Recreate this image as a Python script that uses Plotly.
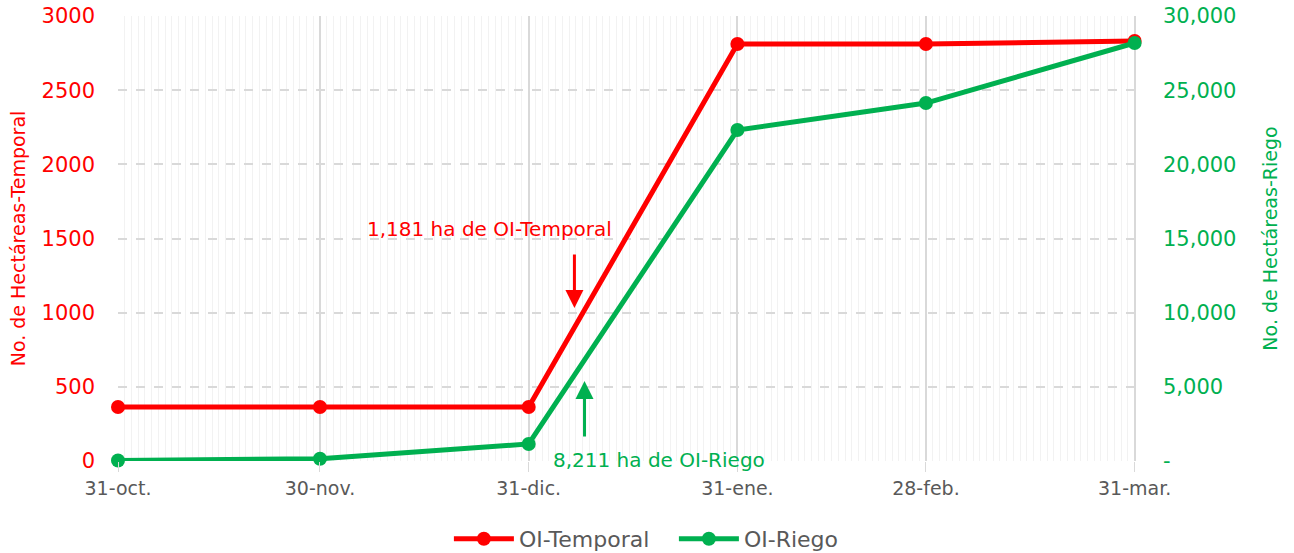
import plotly.graph_objects as go

dates = ["2020-10-31", "2020-11-30", "2020-12-31", "2021-01-31", "2021-02-28", "2021-03-31"]
tick_labels = ["31-oct.", "30-nov.", "31-dic.", "31-ene.", "28-feb.", "31-mar."]
temporal = [364, 364, 364, 2811, 2811, 2831]
riego = [30, 150, 1150, 22310, 24130, 28180]
left_ticks = [0, 500, 1000, 1500, 2000, 2500, 3000]
right_ticks = [0, 5000, 10000, 15000, 20000, 25000, 30000]
right_labels = ["-", "5,000", "10,000", "15,000", "20,000", "25,000", "30,000"]

RED = "#FF0000"
GREEN = "#00B050"
GRAY = "#595959"
FONT = "DejaVu Sans"

fig = go.Figure()
fig.add_trace(go.Scatter(x=dates, y=temporal, name="OI-Temporal", mode="lines+markers", cliponaxis=False,
                         line=dict(color=RED, width=5), marker=dict(size=14, color=RED), yaxis="y"))
fig.add_trace(go.Scatter(x=dates, y=riego, name="OI-Riego", mode="lines+markers", cliponaxis=False,
                         line=dict(color=GREEN, width=5), marker=dict(size=14, color=GREEN), yaxis="y2"))

fig.update_layout(
    width=1294, height=553,
    margin=dict(l=118, r=156, t=16, b=92, autoexpand=False),
    plot_bgcolor="white", paper_bgcolor="white",
    font=dict(family=FONT, size=19, color=GRAY),
    showlegend=True,
    legend=dict(orientation="h", x=0.545, xanchor="center", y=-0.128, yanchor="top",
                font=dict(size=22, color=GRAY), itemwidth=60,
                entrywidth=150, entrywidthmode="pixels"),
    xaxis=dict(
        type="date", automargin=False,
        range=["2020-10-31", "2021-03-31 12:00"],
        tickvals=dates, ticktext=tick_labels,
        tickfont=dict(size=19, color=GRAY), ticklabeloverflow="allow",
        showgrid=True, gridcolor="#D9D9D9", gridwidth=1.5,
        showline=False, zeroline=False,
        ticks="outside", ticklen=10, tickcolor="#D9D9D9",
        minor=dict(dtick=86400000, tick0="2020-10-31", showgrid=True, gridcolor="#F2F2F2", gridwidth=1, ticks=""),
    ),
    yaxis=dict(
        range=[0, 3000], tickvals=left_ticks, automargin=False,
        tickfont=dict(size=21, color=RED), ticklabeloverflow="allow",
        title=dict(text="No. de Hectáreas-Temporal", font=dict(size=19, color=RED), standoff=10),
        showgrid=True, gridcolor="#D9D9D9", gridwidth=1.5, griddash="dash",
        zeroline=False, showline=False, ticklabelstandoff=22,
    ),
    yaxis2=dict(
        range=[0, 30000], overlaying="y", side="right", automargin=False,
        tickvals=right_ticks, ticktext=right_labels,
        tickfont=dict(size=21, color=GREEN), ticklabeloverflow="allow",
        title=dict(text="No. de Hectáreas-Riego", font=dict(size=19, color=GREEN), standoff=28),
        showgrid=False, zeroline=False, showline=False, ticklabelstandoff=24,
    ),
)

fig.add_annotation(x="2020-12-25 06:00", y=1564, xref="x", yref="y", text="1,181 ha de OI-Temporal",
                   showarrow=False, font=dict(size=20, color=RED))
fig.add_annotation(x="2021-01-19 10:00", y=8, xref="x", yref="y", text="8,211 ha de OI-Riego",
                   showarrow=False, font=dict(size=20, color=GREEN))
fig.add_annotation(x="2021-01-06 19:00", y=1031, xref="x", yref="y", text="", showarrow=True,
                   ax=0, ay=-55, arrowcolor=RED, arrowwidth=3, arrowhead=2, arrowsize=1.2)
fig.add_annotation(x="2021-01-08 07:00", y=5393, xref="x", yref="y2", text="", showarrow=True,
                   ax=0, ay=57, arrowcolor=GREEN, arrowwidth=3, arrowhead=2, arrowsize=1.2)

fig.write_html("out.html", config={"displayModeBar": False},
               post_script="document.body.style.margin='0';")
